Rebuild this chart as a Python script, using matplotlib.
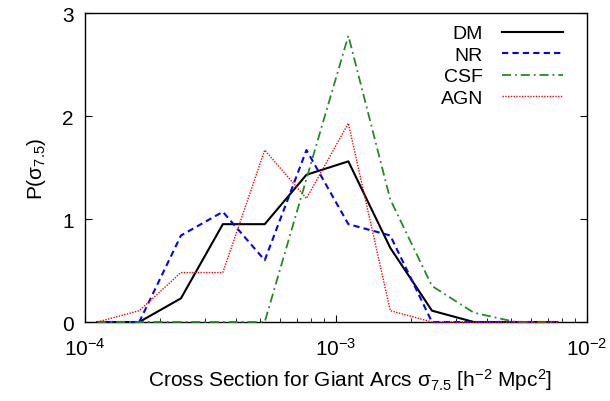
import matplotlib
matplotlib.use("Agg")
import matplotlib.pyplot as plt
from matplotlib.ticker import LogLocator, NullFormatter, FixedLocator

plt.rcParams["font.family"] = ["Liberation Sans", "DejaVu Sans"]
plt.rcParams["mathtext.fontset"] = "custom"
plt.rcParams["mathtext.rm"] = "Liberation Sans"
plt.rcParams["mathtext.it"] = "Liberation Sans"
plt.rcParams["mathtext.default"] = "regular"

# bin centres of the cross-section histogram [h^-2 Mpc^2]
sigma = [1.122e-4, 1.648e-4, 2.416e-4, 3.548e-4, 5.21e-4, 7.64e-4,
         1.122e-3, 1.648e-3, 2.416e-3, 3.548e-3, 5.21e-3, 7.64e-3]

p_dm = [0, 0, 0.23, 0.95, 0.95, 1.43, 1.56, 0.72, 0.11, 0, 0, 0]
p_nr = [0, 0, 0.84, 1.07, 0.60, 1.67, 0.95, 0.84, 0, 0, 0, 0]
p_csf = [0, 0, 0, 0, 0, 1.39, 2.78, 1.19, 0.35, 0.09, 0, 0]
p_agn = [0, 0.11, 0.48, 0.48, 1.67, 1.20, 1.93, 0.11, 0, 0, 0, 0]

labels = ["DM", "NR", "CSF", "AGN"]
y_ticks = [0, 1, 2, 3]
x_ticks = [1e-4, 1e-3, 1e-2]
x_ticklabels = [r"10$^{-4}$", r"10$^{-3}$", r"10$^{-2}$"]

fig = plt.figure(figsize=(6.10, 4.02), dpi=100)
ax = fig.add_axes([0.139, 0.1965, 0.823, 0.7685])

ax.plot(sigma, p_dm, color="black", lw=1.5, label=labels[0], clip_on=False, zorder=3)
ax.plot(sigma, p_nr, color="blue", lw=1.5, dashes=(3, 2), label=labels[1],
        clip_on=False, zorder=3)
ax.plot(sigma, p_csf, color="#228b22", lw=1.3, dashes=(5, 2.2, 1, 2.2), label=labels[2],
        clip_on=False, zorder=3)
ax.plot(sigma, p_agn, color="red", lw=1.0, dashes=(1, 1), label=labels[3],
        clip_on=False, zorder=3)

ax.set_xscale("log")
ax.set_xlim(1e-4, 1e-2)
ax.set_ylim(0, 3)

ax.xaxis.set_major_locator(FixedLocator(x_ticks))
ax.set_xticklabels(x_ticklabels)
ax.xaxis.set_minor_locator(LogLocator(base=10, subs=range(2, 10)))
ax.xaxis.set_minor_formatter(NullFormatter())
ax.set_yticks(y_ticks)

ax.tick_params(axis="both", which="major", direction="in", length=5, width=0.8,
               labelsize=15, pad=8)
ax.tick_params(axis="x", which="major", pad=11)
ax.tick_params(axis="x", which="minor", direction="in", length=3, width=0.6)
ax.tick_params(axis="y", right=True)
ax.tick_params(axis="x", top=False)
for sp in ax.spines.values():
    sp.set_linewidth(1.0)

ax.set_ylabel(r"P($\sigma_{7.5}$)", fontsize=15, labelpad=10)
fig.text(0.574, 0.022, r"Cross Section for Giant Arcs $\sigma_{7.5}$ [h$^{-2}$ Mpc$^{2}$]",
         ha="center", va="bottom", fontsize=15)

ax.legend(loc="upper right", frameon=False, markerfirst=False, fontsize=14,
          handlelength=3.1, handletextpad=1.0, labelspacing=0.2,
          borderaxespad=0.2, bbox_to_anchor=(0.975, 1.0))

fig.savefig("out.png", dpi=100)
